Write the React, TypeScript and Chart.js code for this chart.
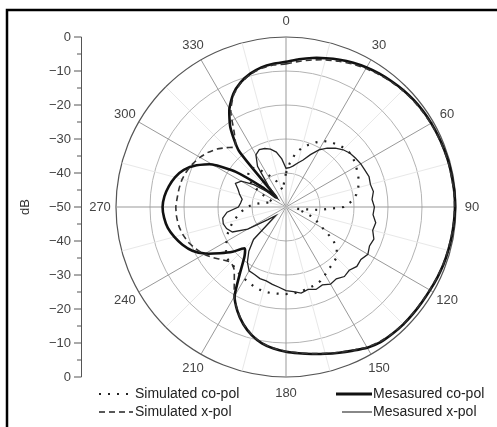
import React, { useEffect, useRef } from "react";
import { Chart, registerables } from "chart.js";

Chart.register(...registerables);

// angle categories (degrees, clockwise from top)
const ANGLES = [
  0, 5, 10, 15, 20, 25, 30, 35, 40, 45, 50, 55,
  60, 65, 70, 75, 80, 85, 90, 95, 100, 105, 110, 115,
  120, 125, 130, 135, 140, 145, 150, 155, 160, 165, 170, 175,
  180, 185, 190, 195, 200, 205, 210, 215, 220, 225, 230, 235,
  240, 245, 250, 255, 260, 265, 270, 275, 280, 285, 290, 295,
  300, 305, 310, 315, 320, 325, 330, 335, 340, 345, 350, 355,
];

// angle tick labels
const ANGLE_LABELS = [0, 30, 60, 90, 120, 150, 180, 210, 240, 270, 300, 330];

// radial (dB) tick labels
const DB_TICKS = [0, -10, -20, -30, -40, -50];
const DB_MINOR = [-5, -15, -25, -35, -45];

// Measured co-pol (thick solid)
const MEAS_CO = [
  -7.3, -6.4, -5.5, -4.7, -3.9, -3.2, -2.6, -2.1, -1.7, -1.3, -1.0, -0.8,
  -0.7, -0.6, -0.5, -0.4, -0.4, -0.3, -0.3, -0.4, -0.5, -0.6, -0.7, -0.9,
  -1.1, -1.2, -1.2, -1.2, -1.3, -1.5, -2.2, -3.4, -4.4, -5.3, -6.1, -6.8,
  -7.4, -8.2, -9.3, -11.0, -13.3, -16.2, -19.8, -26.5, -31.0, -32.8, -29.5, -26.3,
  -22.6, -19.6, -17.6, -16.0, -14.7, -14.0, -13.7, -14.1, -15.0, -16.2, -18.0, -21.0,
  -25.0, -32.0, -41.0, -46.0, -28.5, -21.5, -16.7, -13.3, -11.0, -9.4, -8.3, -7.7,
];

// Measured x-pol (thin solid)
const MEAS_X = [
  -38.6, -38.4, -37.7, -36.6, -35.3, -33.0, -30.6, -28.9, -27.4, -26.2, -25.4, -25.0,
  -24.6, -24.4, -24.0, -24.3, -23.9, -24.6, -24.0, -24.3, -23.2, -23.6, -22.5, -22.9,
  -22.2, -23.1, -22.8, -23.7, -23.3, -24.2, -23.8, -24.7, -24.2, -24.9, -24.3, -25.0,
  -25.4, -26.3, -26.9, -27.5, -27.6, -28.1, -28.3, -30.2, -33.0, -36.5, -46.0, -43.5,
  -37.0, -32.6, -31.4, -30.9, -31.1, -32.6, -36.0, -36.6, -36.9, -35.9, -35.0, -33.6,
  -34.8, -38.5, -43.5, -46.5, -42.0, -35.4, -32.3, -31.4, -31.7, -32.4, -33.6, -35.8,
];

// Simulated x-pol (dashed)
const SIM_X = [
  -7.9, -7.0, -6.1, -5.2, -4.4, -3.6, -3.0, -2.4, -1.9, -1.5, -1.2, -1.0,
  -0.8, -0.7, -0.6, -0.5, -0.5, -0.4, -0.4, -0.5, -0.6, -0.7, -0.8, -1.0,
  -1.2, -1.3, -1.3, -1.3, -1.4, -1.7, -2.4, -3.5, -4.5, -5.4, -6.2, -6.9,
  -7.5, -8.3, -9.4, -11.1, -13.4, -16.3, -19.6, -23.5, -26.2, -27.0, -25.8, -24.0,
  -22.2, -20.8, -19.5, -18.6, -18.0, -17.7, -17.6, -17.9, -18.1, -18.4, -19.0, -19.8,
  -20.8, -22.0, -23.5, -25.3, -26.8, -23.5, -17.5, -13.6, -11.2, -9.6, -8.6, -8.1,
];

// Simulated co-pol (dotted)
const SIM_CO = [
  -40.0, -37.0, -34.0, -32.0, -30.5, -29.0, -27.6, -26.8, -26.1, -25.6, -25.4, -25.7,
  -26.2, -26.7, -27.2, -28.0, -29.0, -30.6, -33.0, -40.0, -47.0, -45.0, -42.0, -40.0,
  -37.5, -33.0, -30.5, -29.0, -28.4, -27.9, -27.0, -26.0, -25.5, -25.2, -24.8, -24.5,
  -24.4, -24.4, -24.3, -24.3, -24.6, -25.1, -25.6, -26.0, -26.8, -26.6, -27.2, -28.4,
  -29.8, -31.0, -32.5, -34.0, -35.6, -37.1, -38.5, -40.5, -43.0, -45.0, -46.0, -44.0,
  -40.5, -37.5, -35.5, -34.5, -35.0, -36.8, -38.8, -40.4, -42.0, -44.0, -45.0, -43.0,
];

const FONT = "'Liberation Sans', Arial, sans-serif";

const decorPlugin = {
  id: "decor",
  beforeDraw(chart: any) {
    const ctx = chart.ctx;
    ctx.save();
    ctx.fillStyle = "#ffffff";
    ctx.fillRect(0, 0, chart.width, chart.height);
    ctx.strokeStyle = "#000";
    ctx.lineWidth = 2.5;
    ctx.beginPath();
    ctx.moveTo(7, chart.height);
    ctx.lineTo(7, 10);
    ctx.lineTo(chart.width, 10);
    ctx.stroke();
    ctx.restore();
  },
  afterDraw(chart: any) {
    const ctx = chart.ctx;
    const r = chart.scales.r;
    ctx.save();
    // angle labels
    ctx.font = `13px ${FONT}`;
    ctx.fillStyle = "#444";
    ctx.textAlign = "center";
    ctx.textBaseline = "middle";
    ANGLE_LABELS.forEach((a) => {
      const idx = ANGLES.indexOf(a);
      const p = r.getPointPosition(idx, r.drawingArea + 16);
      ctx.fillText(String(a), p.x, p.y);
    });

    // left dB axis
    const ax = 81;
    const yTop = (v: number) => r.yCenter - r.getDistanceFromCenterForValue(v);
    const yBot = (v: number) => r.yCenter + r.getDistanceFromCenterForValue(v);
    ctx.strokeStyle = "#555";
    ctx.lineWidth = 1;
    ctx.beginPath();
    ctx.moveTo(ax + 0.5, yTop(0));
    ctx.lineTo(ax + 0.5, yBot(0));
    ctx.stroke();
    ctx.textAlign = "right";
    const fmt = (v: number) => (v < 0 ? "\u2212" + Math.abs(v) : String(v));
    DB_TICKS.forEach((v) => {
      const ys = v === -50 ? [yTop(v)] : [yTop(v), yBot(v)];
      ys.forEach((y) => {
        ctx.beginPath();
        ctx.moveTo(ax - 7, y);
        ctx.lineTo(ax + 0.5, y);
        ctx.stroke();
        ctx.fillText(fmt(v), ax - 10, y);
      });
    });
    DB_MINOR.forEach((v) => {
      [yTop(v), yBot(v)].forEach((y) => {
        ctx.beginPath();
        ctx.moveTo(ax - 4, y);
        ctx.lineTo(ax + 0.5, y);
        ctx.stroke();
      });
    });
    // axis title
    ctx.save();
    ctx.translate(25, r.yCenter);
    ctx.rotate(-Math.PI / 2);
    ctx.textAlign = "center";
    ctx.fillStyle = "#333";
    ctx.font = `13px ${FONT}`;
    ctx.fillText("dB", 0, 0);
    ctx.restore();

    // legend
    ctx.font = `14px ${FONT}`;
    ctx.fillStyle = "#222";
    ctx.textAlign = "left";
    const y1 = 394;
    const y2 = 412;
    ctx.strokeStyle = "#222";
    // dotted
    ctx.lineWidth = 2.2;
    ctx.setLineDash([2, 7]);
    ctx.beginPath();
    ctx.moveTo(99, y1);
    ctx.lineTo(132, y1);
    ctx.stroke();
    // dashed
    ctx.lineWidth = 1.6;
    ctx.setLineDash([6, 4]);
    ctx.beginPath();
    ctx.moveTo(99, y2);
    ctx.lineTo(133, y2);
    ctx.stroke();
    ctx.setLineDash([]);
    ctx.fillText("Simulated co-pol", 135, y1);
    ctx.fillText("Simulated x-pol", 135, y2);
    // thick
    ctx.strokeStyle = "#111";
    ctx.lineWidth = 2.8;
    ctx.beginPath();
    ctx.moveTo(336, y1);
    ctx.lineTo(372, y1);
    ctx.stroke();
    ctx.strokeStyle = "#555";
    ctx.lineWidth = 1.4;
    ctx.beginPath();
    ctx.moveTo(342, y2);
    ctx.lineTo(372, y2);
    ctx.stroke();
    ctx.fillText("Mesasured co-pol", 373, y1);
    ctx.fillText("Mesasured x-pol", 373, y2);
    ctx.restore();
  },
};

export default function App() {
  const ref = useRef<HTMLCanvasElement | null>(null);
  useEffect(() => {
    if (!ref.current) return;
    const chart = new Chart(ref.current, {
      type: "radar",
      data: {
        labels: ANGLES.map(String),
        datasets: [
          {
            label: "Simulated co-pol",
            data: SIM_CO,
            borderColor: "#222",
            borderWidth: 2.2,
            borderDash: [2, 7],
            pointRadius: 0,
            fill: false,
            tension: 0,
          },
          {
            label: "Simulated x-pol",
            data: SIM_X,
            borderColor: "#333",
            borderWidth: 1.6,
            borderDash: [6, 4],
            pointRadius: 0,
            fill: false,
            tension: 0.2,
          },
          {
            label: "Mesasured x-pol",
            data: MEAS_X,
            borderColor: "#222",
            borderWidth: 1.3,
            pointRadius: 0,
            fill: false,
            tension: 0,
          },
          {
            label: "Mesasured co-pol",
            data: MEAS_CO,
            borderColor: "#111",
            borderWidth: 2.6,
            pointRadius: 0,
            fill: false,
            tension: 0.2,
          },
        ],
      },
      options: {
        responsive: false,
        animation: false,
        layout: { padding: { left: 115, right: 39, top: 37, bottom: 49 } },
        plugins: { legend: { display: false }, tooltip: { enabled: false } },
        scales: {
          r: {
            min: -50,
            max: 0,
            ticks: { display: false, stepSize: 10 },
            pointLabels: { display: false },
            grid: {
              circular: true,
              color: (c: any) => (c.tick && c.tick.value === 0 ? "#555" : "#aaa"),
              lineWidth: (c: any) => (c.tick && c.tick.value === 0 ? 1.2 : 0.9),
            },
            angleLines: {
              display: true,
              color: (c: any) =>
                c.index % 6 === 0 ? "#999" : c.index % 3 === 0 ? "#e8e8e8" : "rgba(0,0,0,0)",
              lineWidth: 1,
            },
          },
        },
      },
      plugins: [decorPlugin],
    });
    return () => chart.destroy();
  }, []);
  return (
    <div style={{ position: "absolute", left: 0, top: 0, width: 497, height: 427 }}>
      <canvas ref={ref} width={497} height={427} style={{ width: 497, height: 427 }} />
    </div>
  );
}
